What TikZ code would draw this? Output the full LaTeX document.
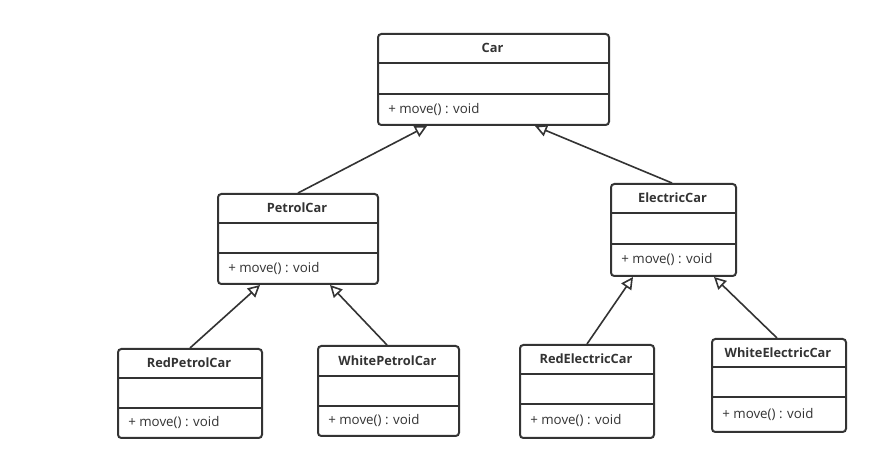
\documentclass[tikz,border=0pt]{standalone}
\usepackage{fontspec}
\setmainfont{Open Sans}
\usetikzlibrary{arrows.meta,calc}
\definecolor{ink}{HTML}{333333}
\tikzset{
  classbox/.style={draw=ink, line width=1.5pt, rounded corners=2.5pt, fill=white},
  divider/.style={draw=ink, line width=1.5pt},
  titletext/.style={font=\bfseries\fontsize{9.6}{11}\selectfont, text=ink, inner sep=0pt},
  methodtext/.style={font=\fontsize{10}{12}\selectfont, text=ink, anchor=west, inner sep=0pt},
  inherit/.style={draw=ink, line width=1.2pt, -{Triangle[open, length=9pt, width=9pt, fill=white]}},
}
% name, x1, y1, x2, y2, d1, d2, title
\newcommand{\umlclassbox}[8]{%
  \node[classbox, anchor=north west, minimum width={(#4-#2)*0.75pt}, minimum height={(#5-#3)*0.75pt}, inner sep=0pt] (#1) at (#2,#3) {};
  \draw[divider] (#2,#6) -- (#4,#6);
  \draw[divider] (#2,#7) -- (#4,#7);
  \node[titletext] (#1-title) at ({(#2+#4)/2},{(#3+#6)/2}) {#8};
  \node[methodtext] (#1-method) at ({#2+11},{(#7+#5)/2}) {+ move() : void};
}
\begin{document}
\begin{tikzpicture}[x=0.75pt, y=-0.75pt]
\useasboundingbox[fill=white] (0,0) rectangle (890,463);
\umlclassbox{Car}{377}{33}{608}{124}{63}{94}{Car}
\umlclassbox{PetrolCar}{217}{193}{377}{283}{223}{253}{PetrolCar}
\umlclassbox{ElectricCar}{610}{183}{735}{275}{213}{244}{ElectricCar}
\umlclassbox{RedPetrolCar}{117}{348}{261}{437}{378}{408}{RedPetrolCar}
\umlclassbox{WhitePetrolCar}{317}{345}{458}{435}{376}{406}{WhitePetrolCar}
\umlclassbox{RedElectricCar}{519}{344}{653}{437}{374}{404}{RedElectricCar}
\umlclassbox{WhiteElectricCar}{711}{338}{845}{431}{367}{397}{WhiteElectricCar}

\draw[inherit] ($(PetrolCar.north west)+(81,0)$) -- ($(Car.south west)+(50,0)$);
\draw[inherit] ($(ElectricCar.north west)+(62,0)$) -- ($(Car.south west)+(158,0)$);
\draw[inherit] ($(RedPetrolCar.north west)+(73,0)$) -- ($(PetrolCar.south west)+(43,0)$);
\draw[inherit] ($(WhitePetrolCar.north west)+(70,0)$) -- ($(PetrolCar.south west)+(113,0)$);
\draw[inherit] ($(RedElectricCar.north west)+(68,0)$) -- ($(ElectricCar.south west)+(23,0)$);
\draw[inherit] ($(WhiteElectricCar.north west)+(66,0)$) -- ($(ElectricCar.south west)+(104,0)$);
\end{tikzpicture}
\end{document}
